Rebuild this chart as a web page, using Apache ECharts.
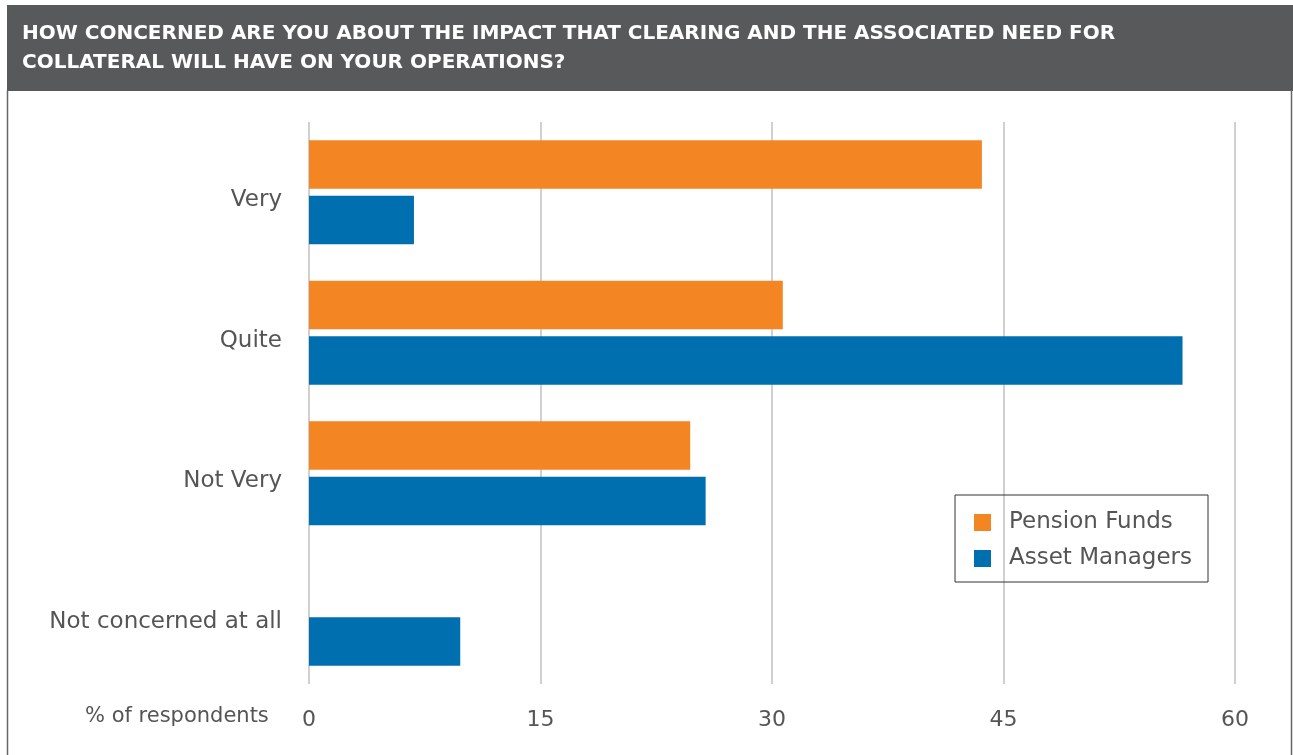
<!DOCTYPE html>
<html><head><meta charset="utf-8">
<script src="https://cdn.jsdelivr.net/npm/echarts@6/dist/echarts.min.js"></script>
<style>html,body{margin:0;padding:0;background:#fff}#c{width:1293px;height:755px}</style>
</head><body><div id="c"></div>
<script>
const titleLines = ['HOW CONCERNED ARE YOU ABOUT THE IMPACT THAT CLEARING AND THE ASSOCIATED NEED FOR', 'COLLATERAL WILL HAVE ON YOUR OPERATIONS?'];
const categories = ['Very', 'Quite', 'Not Very', 'Not concerned at all'];
const pensionFunds = [43.6, 30.7, 24.7, 0];
const assetManagers = [6.8, 56.6, 25.7, 9.8];
const xTicks = [0, 15, 30, 45, 60];
const axisTitle = '% of respondents';

const chart = echarts.init(document.getElementById('c'));
const font = '"DejaVu Sans", sans-serif';
chart.setOption({
  animation: false,
  grid: {left: 309, top: 122, width: 926, height: 562},
  legend: {
    right: 85, top: 495, orient: 'vertical',
    padding: [16, 16, 12, 19], itemGap: 13,
    borderColor: '#333', borderWidth: 1,
    icon: 'rect', itemWidth: 17, itemHeight: 17,
    textStyle: {fontFamily: font, fontSize: 23, color: '#555', padding: [0, 0, 0, 13]},
    data: ['Pension Funds', 'Asset Managers']
  },
  xAxis: {
    type: 'value', min: 0, max: 60, interval: 15,
    axisLine: {show: false}, axisTick: {show: false},
    splitLine: {lineStyle: {color: '#d0d0d0', width: 2}},
    axisLabel: {fontFamily: font, fontSize: 22, color: '#555', margin: 25,
      formatter: v => xTicks.includes(v) ? String(v) : ''}
  },
  yAxis: {
    type: 'category', data: categories, inverse: true,
    axisLine: {show: false}, axisTick: {show: false},
    axisLabel: {margin: 27, formatter: v => '{a|' + v + '}',
      rich: {a: {fontFamily: font, fontSize: 23, color: '#555', padding: [16, 0, 0, 0]}}}
  },
  series: [
    {name: 'Pension Funds', type: 'bar', data: pensionFunds, barGap: '14%', barCategoryGap: '26%',
     itemStyle: {color: '#F48523'}},
    {name: 'Asset Managers', type: 'bar', data: assetManagers,
     itemStyle: {color: '#006FAF'}}
  ],
  graphic: [
    {type: 'rect', left: 7, top: 5, shape: {width: 1286, height: 86}, style: {fill: '#58595B'}, z: 0},
    {type: 'line', shape: {x1: 7.5, y1: 90, x2: 7.5, y2: 755}, style: {stroke: '#666', lineWidth: 1.5}},
    {type: 'line', shape: {x1: 1291.5, y1: 90, x2: 1291.5, y2: 755}, style: {stroke: '#666', lineWidth: 1.5}},
    {type: 'text', left: 22, top: 19, style: {text: titleLines.join('\n'), fill: '#fff',
      font: 'bold 20px "DejaVu Sans", sans-serif', lineHeight: 29}},
    {type: 'text', left: 85, top: 706, style: {text: axisTitle, fill: '#555',
      font: '21px "DejaVu Sans", sans-serif'}}
  ]
});
</script></body></html>
